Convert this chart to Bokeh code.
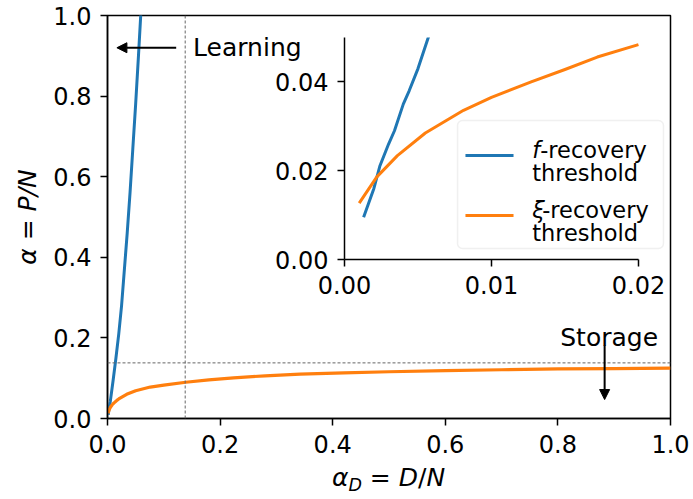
from bokeh.plotting import figure
from bokeh.models import (Range1d, FixedTicker, PrintfTickFormatter, Span, Arrow,
                          NormalHead, Label, BoxAnnotation, GridBox, Div)
from bokeh.embed import file_html
from bokeh.resources import INLINE

# ---------------- data ----------------
# f-recovery threshold
f_alpha_D = [0.0013, 0.0020, 0.0024, 0.0030, 0.0034, 0.0040, 0.0044, 0.0050, 0.0057,
             0.010, 0.015, 0.020, 0.025, 0.030, 0.035, 0.040, 0.045, 0.050, 0.055,
             0.059, 0.061]
f_alpha = [0.0095, 0.016, 0.021, 0.026, 0.029, 0.035, 0.038, 0.043, 0.050,
           0.095, 0.150, 0.210, 0.280, 0.370, 0.460, 0.560, 0.670, 0.780, 0.900,
           1.000, 1.050]
# xi-recovery threshold
xi_alpha_D = [0.001, 0.0022, 0.0036, 0.0055, 0.0081, 0.010, 0.0127, 0.015, 0.0172, 0.020,
              0.034, 0.05, 0.076, 0.10, 0.139, 0.18, 0.224, 0.28, 0.342, 0.42, 0.50,
              0.60, 0.70, 0.80, 0.90, 1.0]
xi_alpha = [0.0127, 0.0186, 0.0234, 0.0285, 0.0336, 0.0365, 0.040, 0.0428, 0.0456, 0.0484,
            0.060, 0.069, 0.078, 0.083, 0.090, 0.096, 0.101, 0.106, 0.110, 0.113, 0.116,
            0.119, 0.121, 0.123, 0.124, 0.125]
alpha_c = 0.138  # storage capacity / learning threshold guide lines

main_ticks = [0.0, 0.2, 0.4, 0.6, 0.8, 1.0]
inset_xticks = [0.0, 0.01, 0.02]
inset_yticks = [0.0, 0.02, 0.04]
inset_xmax = 0.02  # the inset only shows alpha_D <= 0.02

legend_labels = [("f", "-recovery", "threshold"), ("ξ", "-recovery", "threshold")]

# ---------------- styles / layout ----------------
BLUE = "#1f77b4"
ORANGE = "#ff7f0e"
FONT = "DejaVu Sans"
TICK_SIZE = "24px"
TEXT_SIZE = "25px"
LEG_SIZE = "22.5px"

W, H = 692, 498
BORDERS = dict(min_border_left=107, min_border_right=22, min_border_top=15,
               min_border_bottom=80)


def style_axis(ax, ticks, fmt):
    ax.ticker = FixedTicker(ticks=ticks)
    ax.formatter = PrintfTickFormatter(format=fmt)
    ax.major_label_text_font = FONT
    ax.major_label_text_font_size = TICK_SIZE
    ax.major_label_text_color = "black"
    ax.axis_line_color = "black"
    ax.axis_line_width = 1.5
    ax.major_tick_line_color = "black"
    ax.major_tick_line_width = 1.5
    ax.major_tick_in = 0
    ax.major_tick_out = 7
    ax.minor_tick_line_color = None
    ax.major_label_standoff = 9


# ---------------- main figure ----------------
p = figure(width=W, height=H, output_backend="svg", toolbar_location=None,
           x_range=Range1d(0, 1), y_range=Range1d(0, 1), **BORDERS)
p.background_fill_color = "white"
p.border_fill_color = "white"
p.outline_line_color = "black"
p.outline_line_width = 1.5
p.outline_line_alpha = 1.0
p.grid.visible = False
style_axis(p.xaxis[0], main_ticks, "%.1f")
style_axis(p.yaxis[0], main_ticks, "%.1f")
p.yaxis.axis_label = "α = P/N"
p.yaxis.axis_label_text_font = FONT
p.yaxis.axis_label_text_font_size = TEXT_SIZE
p.yaxis.axis_label_text_font_style = "italic"
p.yaxis.axis_label_text_color = "black"
p.yaxis.axis_label_standoff = 8

for dim in ("height", "width"):
    p.add_layout(Span(location=alpha_c, dimension=dim, line_color="#666666",
                      line_width=1, line_dash="3 2"))

p.line(f_alpha_D, f_alpha, line_color=BLUE, line_width=3, line_join="round")
p.line(xi_alpha_D, xi_alpha, line_color=ORANGE, line_width=3.2, line_join="round")

# annotations
p.add_layout(Arrow(end=NormalHead(size=10, fill_color="black", line_color="black"),
                   x_start=0.122, y_start=0.92, x_end=0.0167, y_end=0.92,
                   line_color="black", line_width=2))
p.add_layout(Label(x=0.152, y=0.92, text="Learning", text_font=FONT,
                   text_font_size=TEXT_SIZE, text_baseline="middle", text_align="left",
                   text_color="black"))
p.add_layout(Arrow(end=NormalHead(size=10, fill_color="black", line_color="black"),
                   x_start=0.883, y_start=0.181, x_end=0.883, y_end=0.047,
                   line_color="black", line_width=2))
p.add_layout(Label(x=0.891, y=0.20, text="Storage", text_font=FONT,
                   text_font_size=TEXT_SIZE, text_baseline="alphabetic", text_align="center",
                   text_color="black"))

# ---------------- inset ----------------
# frame: x 344..670, y 37..259 (page px); borders are shared with the main plot
ins = figure(width=107 + 326 + 22, height=15 + 222 + 80, output_backend="svg",
             toolbar_location=None, x_range=Range1d(0, 0.02218), y_range=Range1d(0, 0.05),
             **BORDERS)
ins.background_fill_color = None
ins.border_fill_color = None
ins.outline_line_color = None
ins.grid.visible = False
style_axis(ins.xaxis[0], inset_xticks, "%.2f")
style_axis(ins.yaxis[0], inset_yticks, "%.2f")
ins.xaxis.bounds = (0, inset_xmax)

f_in = [(x, y) for x, y in zip(f_alpha_D, f_alpha) if x <= inset_xmax]
xi_in = [(x, y) for x, y in zip(xi_alpha_D, xi_alpha) if x <= inset_xmax]
ins.line([a for a, _ in f_in], [b for _, b in f_in], line_color=BLUE, line_width=3,
         line_join="round")
ins.line([a for a, _ in xi_in], [b for _, b in xi_in], line_color=ORANGE, line_width=3,
         line_join="round")

# legend (drawn by hand so the f / ξ can be italic and labels two-line)
ins.add_layout(BoxAnnotation(left=0.00769, right=0.0217, top=0.03131, bottom=0.00248,
                             fill_color="white", fill_alpha=0.8, line_color="#cccccc",
                             line_width=1.5, border_radius=5, level="underlay"))
LEG_X0, LEG_X1, LEG_TX = 0.00823, 0.0115, 0.01277
LEG_ROWS = [(0.02342, 0.02455, 0.01937, 8), (0.00991, 0.01126, 0.00608, 10)]
for color, (sym, rest, second), (ly, b1, b2, off) in zip([BLUE, ORANGE], legend_labels, LEG_ROWS):
    ins.line([LEG_X0, LEG_X1], [ly, ly], line_color=color, line_width=3)
    ins.add_layout(Label(x=LEG_TX, y=b1, text=sym, text_font=FONT, text_font_size=LEG_SIZE,
                         text_font_style="italic", text_baseline="alphabetic",
                         text_color="black"))
    ins.add_layout(Label(x=LEG_TX, y=b1, x_offset=off, text=rest, text_font=FONT,
                         text_font_size=LEG_SIZE, text_baseline="alphabetic",
                         text_color="black"))
    ins.add_layout(Label(x=LEG_TX, y=b2, text=second, text_font=FONT,
                         text_font_size=LEG_SIZE, text_baseline="alphabetic",
                         text_color="black"))

# ---------------- x-axis label (mixed italic / subscript) ----------------
xlabel = Div(
    text=('<div style="width:563px; text-align:center; font-family:\'DejaVu Sans\'; '
          'font-size:25px; line-height:29px; color:black; white-space:nowrap;">'
          '<i>α</i><i style="font-size:17.5px; position:relative; top:5px;">D</i>'
          ' = <i>D</i>/<i>N</i></div>'),
    width=563, height=30, styles={"text-align": "center"})

p.margin = (0, 0, 0, 0)
ins.margin = (22, 0, 0, 237)
xlabel.margin = (463, 0, 0, 107)

layout = GridBox(children=[(p, 0, 0), (ins, 0, 0), (xlabel, 0, 0)])

open("out.html", "w").write(file_html(layout, INLINE))
